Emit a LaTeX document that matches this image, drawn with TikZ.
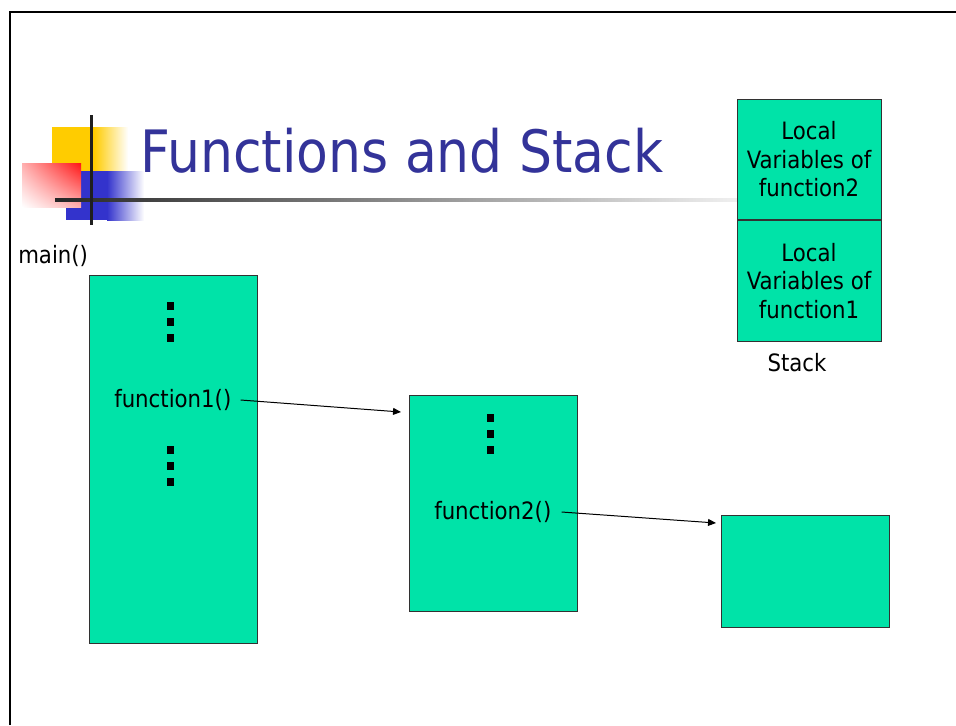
\documentclass[tikz,border=0pt]{standalone}
\usepackage{fontspec}
\setmainfont{DejaVu Sans}[FakeStretch=0.89]
\usepackage{tikz}
\usetikzlibrary{arrows.meta,positioning,shadings}
\definecolor{fsgreen}{RGB}{0,227,168}
\definecolor{fsedge}{RGB}{50,50,50}
\definecolor{fstitle}{RGB}{51,51,153}
\definecolor{fsyellow}{RGB}{255,204,0}
\definecolor{fsblue}{RGB}{51,51,204}
\definecolor{fsred}{RGB}{255,20,20}
\definecolor{fspink}{RGB}{255,175,175}
\newlength{\px}
\setlength{\px}{0.7531pt}
\tikzset{
  fsbox/.style={draw=fsedge, line width=1\px, fill=fsgreen, inner sep=0pt, anchor=north west},
  fsstack/.style={fsbox, anchor=north, minimum width=144\px, align=center, font=\fontsize{18}{21.5}\selectfont},
  fslabel/.style={font=\fontsize{18}{21.5}\selectfont, inner sep=0pt},
  fsarr/.style={-{Triangle[length=6pt, width=5.2pt]}, line width=0.75pt, draw=black}
}
\begin{document}
\begin{tikzpicture}[x=1\px, y=-1\px]
  \useasboundingbox (0,0) rectangle (956,725);
  % slide frame
  \draw[line width=2\px] (10,725) -- (10,12) -- (956,12);
  % logo
  \fill[fsyellow] (52,127) rectangle (94,171);
  \shade[left color=fsyellow, right color=white] (94,127) rectangle (128,171);
  \fill[fsblue] (66,171) rectangle (107,220);
  \shade[left color=fsblue, right color=white] (107,171) rectangle (144,220);
  \shade[upper left=fspink, upper right=fsred, lower left=white, lower right=fspink] (22,163) rectangle (81,207);
  \shade[left color=black!85, right color=black!6] (55,198.5) rectangle (737,201.5);
  \fill[black!88] (89.5,115) rectangle (92.5,225);
  \node[anchor=base west, inner sep=0pt, text=fstitle, font=\fontsize{44}{53}\selectfont] (title) at (140,172) {Functions and Stack};
  % stack frames
  \node[fsstack, minimum height=120\px] (frame2) at (809,99) {Local\\Variables of\\function2};
  \node[fsstack, minimum height=121\px, below=0pt of frame2] (frame1) {Local\\Variables of\\function1};
  \node[fslabel] (stacklbl) at (797,363) {Stack};
  % function bodies
  \node[fslabel, anchor=west] (mainlbl) at (18,256) {main()};
  \node[fsbox, minimum width=168\px, minimum height=368\px] (mainbody) at (89,275) {};
  \node[fsbox, minimum width=168\px, minimum height=216\px] (f1body) at (409,395) {};
  \node[fsbox, minimum width=168\px, minimum height=112\px] (f2body) at (721,515) {};
  \foreach \gx/\gy in {167/302, 167/446, 487/414}
    \foreach \dy in {0,16,32}
      \fill (\gx,\gy+\dy) rectangle ++(7,8);
  \node[fslabel, anchor=west] (call1) at (114,400) {function1()};
  \node[fslabel, anchor=west] (call2) at (434,512) {function2()};
  \draw[fsarr] ([shift={(9,0)}]call1.east) -- ([shift={(-8,17)}]f1body.north west);
  \draw[fsarr] ([shift={(10,0)}]call2.east) -- ([shift={(-5,8)}]f2body.north west);
\end{tikzpicture}
\end{document}
